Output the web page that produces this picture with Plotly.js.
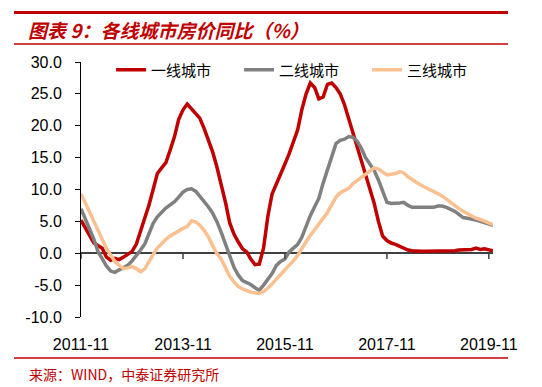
<!DOCTYPE html>
<html>
<head>
<meta charset="utf-8">
<script src="https://cdn.plot.ly/plotly-3.0.1.min.js"></script>
<style>html,body{margin:0;padding:0;background:#fff;}#chart{width:542px;height:387px;}</style>
</head>
<body>
<div id="chart"></div>
<script>
// ---- data ----
const seriesNames = ['一线城市', '二线城市', '三线城市'];
const startYear = 2011, startMonth = 11, monthCount = 98; // 2011-11 .. 2019-12
const tier1 = [5.2,4.0,2.8,1.6,1.2,0.8,-0.6,-1.1,-0.8,-1.0,
  -0.6,-0.2,0.3,1.4,3.5,5.5,7.5,10.0,12.5,13.4,
  14.2,16.2,18.3,21.0,22.5,23.4,22.6,22.0,21.2,19.6,
  17.8,15.9,13.6,11.0,8.0,4.8,3.0,1.8,0.7,0.2,
  -0.9,-1.8,-1.7,0.8,5.7,9.3,11.0,12.5,14.0,15.6,
  17.5,19.4,22.5,25.0,26.7,26.0,24.2,24.5,26.5,26.7,
  26.0,25.0,23.3,21.0,19.0,16.5,14.3,12.0,10.0,7.9,
  5.0,2.7,2.0,1.6,1.4,1.1,0.8,0.5,0.4,0.3,
  0.3,0.3,0.3,0.3,0.3,0.4,0.4,0.4,0.4,0.5,
  0.5,0.5,0.6,0.8,0.6,0.7,0.5,0.4];
const tier2 = [7.0,5.5,3.8,2.2,0.3,-0.9,-2.0,-2.8,-3.0,-2.6,
  -2.3,-1.9,-1.2,-0.4,0.5,1.5,3.0,4.7,5.7,6.5,
  7.1,7.6,8.1,8.8,9.6,10.0,10.1,9.7,9.0,8.2,
  7.3,6.3,5.0,3.3,1.4,-0.6,-2.2,-3.4,-4.3,-4.6,
  -4.9,-5.4,-5.8,-5.0,-4.0,-3.2,-1.9,-1.3,-0.9,0.2,
  0.8,1.4,2.5,4.3,5.9,7.3,8.6,11.0,13.2,15.2,
  17.2,17.7,17.9,18.3,18.2,17.6,16.5,15.0,14.0,13.0,
  11.5,9.6,8.0,7.8,7.8,7.9,8.0,7.5,7.2,7.2,
  7.2,7.2,7.2,7.2,7.4,7.4,7.2,6.9,6.6,6.1,
  5.6,5.5,5.4,5.2,5.0,4.8,4.6,4.4];
const tier3 = [9.3,8.0,6.5,5.0,3.6,2.2,0.8,-0.3,-1.3,-1.9,
  -2.4,-2.3,-2.1,-2.4,-2.9,-2.4,-1.3,-0.2,0.8,1.6,
  2.2,2.7,3.1,3.6,3.9,4.2,5.1,4.9,4.4,3.6,
  2.6,1.2,0.0,-0.9,-2.3,-3.6,-4.5,-5.2,-5.6,-5.9,
  -6.1,-6.2,-6.3,-6.0,-5.5,-4.8,-4.0,-3.2,-2.6,-1.9,
  -1.2,-0.3,0.8,1.8,2.8,3.7,4.6,5.5,6.4,7.6,
  8.8,9.5,9.8,10.2,10.9,11.4,11.9,12.5,13.0,13.4,
  13.2,12.7,12.3,12.4,12.5,12.8,12.6,12.0,11.5,11.1,
  10.7,10.3,10.0,9.7,9.4,9.0,8.5,8.0,7.4,7.0,
  6.6,6.2,5.9,5.5,5.3,5.0,4.8,4.5];
const xTickVals = ['2011-11-01','2013-11-01','2015-11-01','2017-11-01','2019-11-01'];
const xTickText = ['2011-11','2013-11','2015-11','2017-11','2019-11'];
const yTickVals = [-10,-5,0,5,10,15,20,25,30];
const yTickText = ['-10.0','-5.0','0.0','5.0','10.0','15.0','20.0','25.0','30.0'];
const titleText = '图表 9：各线城市房价同比（%）';
const sourceText = '来源：WIND，中泰证券研究所';

// month labels
const months = [];
for (let i = 0; i < monthCount; i++) {
  const m0 = startMonth - 1 + i;
  const y = startYear + Math.floor(m0 / 12);
  const m = (m0 % 12) + 1;
  months.push(y + '-' + String(m).padStart(2, '0') + '-01');
}

const colors = ['#C00000', '#808080', '#FAC090'];
const values = [tier1, tier2, tier3];
const traces = values.map((v, k) => ({
  type: 'scatter', mode: 'lines', x: months, y: v, name: seriesNames[k],
  line: {color: colors[k], width: 3.5}
}));

const numFont = "'Liberation Sans Narrow', 'Arial Narrow', 'Liberation Sans', Arial, sans-serif";
const cjkFont = "'Noto Sans CJK SC', sans-serif";
const red = '#C00000';

const shapes = xTickVals.map(t => ({
  type: 'line', xref: 'x', yref: 'y', x0: t, x1: t, y0: 0, y1: -0.9,
  line: {color: '#404040', width: 1.5}
}));
shapes.push({type:'line', xref:'paper', yref:'paper', x0:-0.1626, x1:1.0364, y0:1.194, y1:1.194, line:{color:red, width:3}});
shapes.push({type:'line', xref:'paper', yref:'paper', x0:-0.1626, x1:1.0364, y0:1.0706, y1:1.0706, line:{color:red, width:1.3}});
shapes.push({type:'line', xref:'paper', yref:'paper', x0:-0.1626, x1:1.0364, y0:-0.1608, y1:-0.1608, line:{color:red, width:1.3}});

const layout = {
  width: 542, height: 387,
  margin: {l: 81, r: 49, t: 62, b: 70},
  paper_bgcolor: '#fff', plot_bgcolor: '#fff',
  showlegend: true,
  title: {
    text: titleText, xref: 'container', yref: 'container',
    x: 28/542, xanchor: 'left', y: 1 - 31/387, yanchor: 'middle',
    font: {family: cjkFont, size: 19, color: red, weight: 'bold', style: 'italic'}
  },
  xaxis: {
    type: 'date', range: [months[0], months[monthCount - 1]],
    tickmode: 'array', tickvals: xTickVals, ticktext: xTickText,
    ticks: 'outside', ticklen: 13, tickcolor: 'rgba(0,0,0,0)',
    showgrid: false, showline: false, zeroline: false,
    tickfont: {family: numFont, size: 16, color: '#000'}
  },
  yaxis: {
    range: [-10, 30], tickmode: 'array', tickvals: yTickVals, ticktext: yTickText,
    ticks: 'outside', ticklen: 5, tickcolor: '#000', tickwidth: 1,
    showline: true, linecolor: '#000', linewidth: 1,
    showgrid: false, zeroline: true, zerolinecolor: '#404040', zerolinewidth: 2,
    ticklabelstandoff: 10,
    tickfont: {family: numFont, size: 16, color: '#000'}
  },
  legend: {
    orientation: 'h', x: 0.073, y: 0.969, xanchor: 'left', yanchor: 'middle',
    entrywidth: 83, entrywidthmode: 'pixels', itemwidth: 30,
    bgcolor: 'rgba(0,0,0,0)', font: {family: cjkFont, size: 15, color: '#000'}
  },
  shapes: shapes,
  annotations: [{
    text: sourceText, xref: 'paper', yref: 'paper', x: -0.131, y: -0.2235,
    xanchor: 'left', yanchor: 'middle', showarrow: false,
    font: {family: cjkFont, size: 14, color: red}
  }]
};

Plotly.newPlot('chart', traces, layout, {displayModeBar: false, staticPlot: true});
</script>
</body>
</html>
